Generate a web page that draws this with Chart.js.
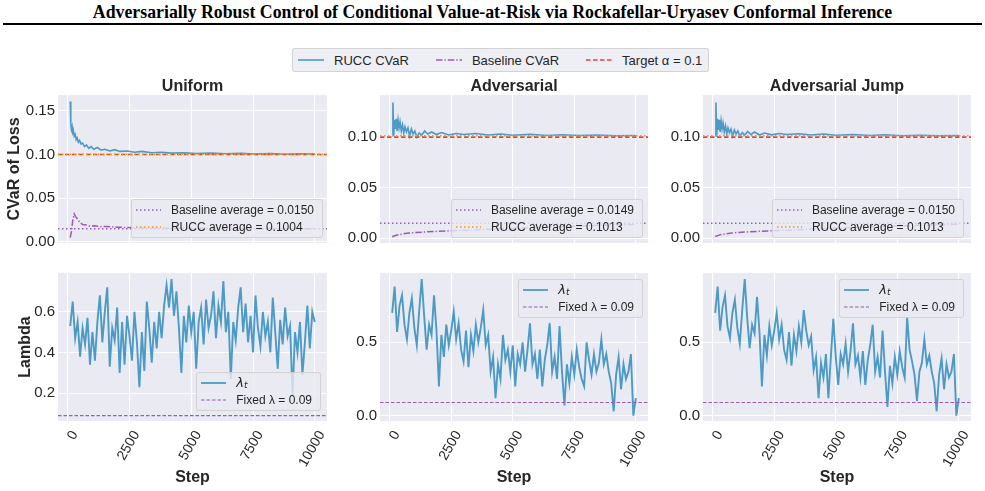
<!DOCTYPE html>
<html>
<head>
<meta charset="utf-8">
<script src="https://cdn.jsdelivr.net/npm/chart.js@4.4.1/dist/chart.umd.min.js"></script>
<style>
  html, body { margin: 0; padding: 0; background: #fff; }
  #fig { position: relative; width: 985px; height: 491px; overflow: hidden;
         font-family: 'Liberation Sans', Arial, sans-serif; color: #262626; }
  #fig canvas { position: absolute; }
  .suptitle { position: absolute; left: 0; width: 985px; top: 2px; text-align: center;
              font-family: 'Liberation Serif', 'Times New Roman', serif; font-weight: bold;
              font-size: 17.8px; line-height: 20px; color: #000; }
  .rule { position: absolute; left: 3px; width: 979px; top: 23px; height: 2px; background: #000; }
  .legend { position: absolute; background: rgba(234, 234, 242, 0.8);
            border: 1px solid rgba(204, 204, 204, 0.8); border-radius: 3px;
            font-size: 12px; line-height: 16.5px; padding: 2px 8px 2px 4px; white-space: nowrap; }
  .legend .row { display: flex; align-items: center; height: 16.5px; }
  .legend svg { margin-right: 10px; flex: none; }
  .figlegend { position: absolute; left: 292px; top: 48px; height: 22px; display: flex; align-items: center;
               background: rgba(234, 234, 242, 0.8); border: 1px solid rgba(204, 204, 204, 0.8);
               border-radius: 3px; font-size: 13px; padding: 0 6px 0 5px; white-space: nowrap; }
  .figlegend .item { display: flex; align-items: center; margin-right: 27px; }
  .figlegend .item:last-child { margin-right: 0; }
  .figlegend svg { margin-right: 10px; flex: none; }
  .math { font-family: 'DejaVu Sans', sans-serif; font-style: italic; font-size: 13px; }
  .math sub { font-size: 9px; position: relative; top: 1px; vertical-align: baseline; }
</style>
</head>
<body>
<div id="fig">
  <div class="suptitle">Adversarially Robust Control of Conditional Value-at-Risk via Rockafellar-Uryasev Conformal Inference</div>
  <div class="rule"></div>
  <canvas id="cvarUniform"></canvas>
  <canvas id="cvarAdversarial"></canvas>
  <canvas id="cvarJump"></canvas>
  <canvas id="lambdaUniform"></canvas>
  <canvas id="lambdaAdversarial"></canvas>
  <canvas id="lambdaJump"></canvas>
</div>
<script>
// ---- data ----
const X_MIN = -395;
const X_MAX = 10495;
const xTickValues = [0, 2500, 5000, 7500, 10000];

const target = 0.1;
const fixedLambda = 0.09;

// CVaR, Uniform
const uniformRuccSteps = [100, 115, 130, 150, 175, 200, 230, 260, 300, 340, 380, 430, 480, 540, 600, 680, 760, 850, 950, 1050,
  1200, 1350, 1500, 1700, 1900, 2100, 2400, 2700, 3000, 3400, 3800, 4200, 4700, 5200, 5800, 6400, 7000, 7600, 8200, 8800, 9400, 10000];
const uniformRucc = [0.1605, 0.148, 0.135, 0.129, 0.132, 0.125, 0.127, 0.121, 0.123, 0.117, 0.119, 0.114, 0.116, 0.112, 0.113, 0.109, 0.111, 0.107, 0.109, 0.106,
  0.108, 0.105, 0.106, 0.104, 0.1055, 0.1035, 0.104, 0.1025, 0.1035, 0.102, 0.1025, 0.1015, 0.102, 0.101, 0.1015, 0.1008, 0.1013, 0.1005, 0.101, 0.1003, 0.1008, 0.1004];
const uniformBaselineSteps = [100, 150, 200, 260, 320, 400, 500, 600, 750, 900, 1100, 1300, 1600, 2000, 2500, 3000, 4000, 5000, 6000, 7000, 8000, 9000, 10000];
const uniformBaseline = [0.005, 0.012, 0.024, 0.032, 0.029, 0.026, 0.022, 0.020, 0.0195, 0.018, 0.0185, 0.0175, 0.0178, 0.0168, 0.0165, 0.016, 0.0158, 0.0156, 0.0155, 0.0154, 0.0153, 0.0152, 0.0152];

// CVaR, Adversarial and Adversarial Jump
const advRuccSteps = [100, 130, 160, 200, 240, 270, 300, 340, 380, 420, 470, 520, 570, 620, 680, 740, 810, 880, 950, 1020,
  1100, 1200, 1300, 1420, 1550, 1700, 1900, 2100, 2400, 2700, 3000, 3500, 4000, 4500, 5000, 5700, 6400, 7000, 7700, 8400, 9200, 10000];
const advRucc = [0.103, 0.134, 0.101, 0.117, 0.108, 0.118, 0.106, 0.117, 0.109, 0.115, 0.106, 0.112, 0.104, 0.110, 0.105, 0.109, 0.101, 0.108, 0.103, 0.106,
  0.100, 0.104, 0.102, 0.106, 0.103, 0.105, 0.1025, 0.1045, 0.102, 0.1035, 0.1025, 0.1035, 0.102, 0.103, 0.1018, 0.1027, 0.1015, 0.1022, 0.1015, 0.102, 0.1012, 0.1015];
const jumpRucc = [0.102, 0.134, 0.100, 0.118, 0.107, 0.117, 0.105, 0.116, 0.108, 0.114, 0.105, 0.111, 0.103, 0.109, 0.104, 0.108, 0.101, 0.107, 0.103, 0.106,
  0.1005, 0.1045, 0.102, 0.1055, 0.1025, 0.105, 0.102, 0.104, 0.1022, 0.1035, 0.1025, 0.1032, 0.102, 0.103, 0.1018, 0.1025, 0.1015, 0.1022, 0.1013, 0.1018, 0.1012, 0.1014];
const advBaselineSteps = [100, 200, 300, 500, 700, 1000, 1500, 2000, 3000, 4000, 5000, 6000, 7000, 8000, 9000, 10000];
const advBaseline = [0.0016, 0.0025, 0.0033, 0.0042, 0.0050, 0.0057, 0.0064, 0.0070, 0.0080, 0.0090, 0.0100, 0.0108, 0.0116, 0.0124, 0.0131, 0.0138];
const jumpBaseline = [0.0018, 0.0027, 0.0035, 0.0044, 0.0051, 0.0058, 0.0065, 0.0071, 0.0081, 0.0091, 0.0101, 0.0109, 0.0117, 0.0125, 0.0132, 0.0139];

const baselineAverages = { uniform: 0.0150, adversarial: 0.0149, jump: 0.0150 };
const ruccAverages = { uniform: 0.1004, adversarial: 0.1013, jump: 0.1013 };

// lambda_t, one value every 100 steps
const lambdaSteps = Array.from({ length: 100 }, (_, i) => (i + 1) * 100);
const uniformLambda = [
  0.53, 0.65, 0.47, 0.55, 0.38, 0.52, 0.44, 0.57, 0.34, 0.50,
  0.36, 0.55, 0.68, 0.45, 0.60, 0.72, 0.33, 0.52, 0.46, 0.62,
  0.30, 0.55, 0.34, 0.58, 0.48, 0.36, 0.60, 0.45, 0.23, 0.50,
  0.31, 0.65, 0.52, 0.35, 0.55, 0.42, 0.60, 0.47, 0.63, 0.73,
  0.62, 0.76, 0.58, 0.70, 0.52, 0.30, 0.58, 0.45, 0.63, 0.50,
  0.60, 0.32, 0.55, 0.62, 0.44, 0.66, 0.52, 0.58, 0.70, 0.47,
  0.63, 0.55, 0.75, 0.50, 0.60, 0.27, 0.55, 0.46, 0.62, 0.72,
  0.50, 0.64, 0.45, 0.58, 0.40, 0.68, 0.52, 0.43, 0.60, 0.48,
  0.55, 0.40, 0.67, 0.50, 0.32, 0.56, 0.44, 0.62, 0.48, 0.53,
  0.19, 0.50, 0.40, 0.55, 0.29, 0.45, 0.63, 0.42, 0.60, 0.55];
const adversarialLambda = [
  0.70, 0.88, 0.57, 0.75, 0.82, 0.62, 0.52, 0.70, 0.80, 0.60,
  0.48, 0.72, 0.93, 0.68, 0.45, 0.62, 0.55, 0.82, 0.58, 0.20,
  0.55, 0.40, 0.62, 0.48, 0.58, 0.71, 0.52, 0.63, 0.45, 0.37,
  0.58, 0.33, 0.55, 0.44, 0.62, 0.50, 0.60, 0.72, 0.48, 0.55,
  0.30, 0.40, 0.12, 0.35, 0.25, 0.55, 0.38, 0.45, 0.30, 0.48,
  0.20, 0.42, 0.35, 0.50, 0.30, 0.45, 0.63, 0.35, 0.42, 0.25,
  0.45, 0.20, 0.38, 0.48, 0.63, 0.30, 0.40, 0.25, 0.61, 0.30,
  0.07, 0.35, 0.22, 0.40, 0.28, 0.45, 0.33, 0.25, 0.20, 0.50,
  0.38, 0.28, 0.42, 0.30, 0.36, 0.52, 0.35, 0.42, 0.30, 0.22,
  0.03, 0.28, 0.40, 0.18, 0.35, 0.25, 0.30, 0.42, 0.00, 0.12];
const jumpLambda = [
  0.70, 0.88, 0.58, 0.74, 0.82, 0.61, 0.53, 0.70, 0.79, 0.60,
  0.49, 0.72, 0.93, 0.67, 0.46, 0.62, 0.56, 0.81, 0.57, 0.20,
  0.55, 0.41, 0.61, 0.48, 0.58, 0.70, 0.52, 0.62, 0.45, 0.38,
  0.57, 0.34, 0.55, 0.44, 0.61, 0.50, 0.72, 0.58, 0.48, 0.54,
  0.31, 0.40, 0.12, 0.36, 0.26, 0.42, 0.12, 0.40, 0.66, 0.40,
  0.21, 0.42, 0.35, 0.49, 0.30, 0.44, 0.63, 0.35, 0.41, 0.26,
  0.44, 0.21, 0.38, 0.48, 0.62, 0.30, 0.40, 0.26, 0.58, 0.30,
  0.06, 0.34, 0.22, 0.40, 0.28, 0.44, 0.33, 0.26, 0.67, 0.45,
  0.37, 0.28, 0.10, 0.30, 0.36, 0.52, 0.35, 0.41, 0.30, 0.22,
  0.03, 0.28, 0.39, 0.18, 0.35, 0.26, 0.30, 0.42, 0.00, 0.12];

// ---- styling ----
const INK = '#262626';
const BLUE = '#4c9ac6';
const PURPLE = '#9b59b6';
const RED = '#e8413c';
const ORANGE = '#f39c12';
const DASH_DOT = [6.5, 2, 1.3, 2];
const DASHED = [4.5, 2.5];
const DOTTED = [1.5, 2.5];
const THIN_DASHED = [3.5, 2];

Chart.defaults.font.family = "'Liberation Sans', Arial, sans-serif";
Chart.defaults.color = INK;

const toPoints = (xs, ys) => xs.map((x, i) => ({ x: x, y: ys[i] }));
const hline = (v) => [{ x: X_MIN, y: v }, { x: X_MAX, y: v }];

function line(points, color, width, dash) {
  return {
    data: points,
    borderColor: color,
    borderWidth: width,
    borderDash: dash || [],
    pointRadius: 0,
    fill: false,
    tension: 0,
  };
}

// first dataset is drawn on top
function cvarDatasets(steps, rucc, baseSteps, baseline, baseAvg, ruccAvg) {
  return [
    line(hline(ruccAvg), ORANGE, 1.5, DOTTED),
    line(hline(baseAvg), PURPLE, 1.5, DOTTED),
    line(hline(target), RED, 1.7, DASHED),
    line(toPoints(baseSteps, baseline), PURPLE, 1.5, DASH_DOT),
    line(toPoints(steps, rucc), BLUE, 1.6),
  ];
}

function lambdaDatasets(values) {
  return [
    line(hline(fixedLambda), PURPLE, 1.2, THIN_DASHED),
    line(toPoints(lambdaSteps, values), BLUE, 1.9),
  ];
}

const plotBackground = {
  id: 'plotBackground',
  beforeDraw(chart) {
    const { ctx, chartArea } = chart;
    ctx.save();
    ctx.fillStyle = '#eaeaf2';
    ctx.fillRect(chartArea.left, chartArea.top, chartArea.width, chartArea.height);
    ctx.restore();
  },
};

const panels = [
  { id: 'cvarUniform', left: 0, top: 75, width: 330, height: 180, yWidth: 58, padRight: 3, padTop: 0, xHeight: 12,
    title: 'Uniform', yTitle: 'CVaR of Loss', yTitlePad: 5.4, yMin: -0.0012, yMax: 0.168, yTicks: [0, 0.05, 0.1, 0.15], yDec: 2,
    datasets: cvarDatasets(uniformRuccSteps, uniformRucc, uniformBaselineSteps, uniformBaseline, baselineAverages.uniform, ruccAverages.uniform) },
  { id: 'cvarAdversarial', left: 330, top: 75, width: 325, height: 180, yWidth: 50, padRight: 7, padTop: 0, xHeight: 12,
    title: 'Adversarial', yMin: -0.0046, yMax: 0.1415, yTicks: [0, 0.05, 0.1], yDec: 2,
    datasets: cvarDatasets(advRuccSteps, advRucc, advBaselineSteps, advBaseline, baselineAverages.adversarial, ruccAverages.adversarial) },
  { id: 'cvarJump', left: 653, top: 75, width: 332, height: 180, yWidth: 50, padRight: 14, padTop: 0, xHeight: 12,
    title: 'Adversarial Jump', yMin: -0.0046, yMax: 0.1415, yTicks: [0, 0.05, 0.1], yDec: 2,
    datasets: cvarDatasets(advRuccSteps, jumpRucc, advBaselineSteps, jumpBaseline, baselineAverages.jump, ruccAverages.jump) },
  { id: 'lambdaUniform', left: 0, top: 263, width: 330, height: 228, yWidth: 58, padRight: 3, padTop: 10, xHeight: 70, xLabels: true,
    yTitle: 'Lambda', yTitlePad: 16.4, yMin: 0.064, yMax: 0.79, yTicks: [0.2, 0.4, 0.6], yDec: 1,
    datasets: lambdaDatasets(uniformLambda) },
  { id: 'lambdaAdversarial', left: 330, top: 263, width: 325, height: 228, yWidth: 50, padRight: 7, padTop: 10, xHeight: 70, xLabels: true,
    yMin: -0.036, yMax: 0.972, yTicks: [0, 0.5], yDec: 1,
    datasets: lambdaDatasets(adversarialLambda) },
  { id: 'lambdaJump', left: 653, top: 263, width: 332, height: 228, yWidth: 50, padRight: 14, padTop: 10, xHeight: 70, xLabels: true,
    yMin: -0.036, yMax: 0.972, yTicks: [0, 0.5], yDec: 1,
    datasets: lambdaDatasets(jumpLambda) },
];

panels.forEach((p) => {
  const canvas = document.getElementById(p.id);
  canvas.width = p.width;
  canvas.height = p.height;
  canvas.style.left = p.left + 'px';
  canvas.style.top = p.top + 'px';

  new Chart(canvas, {
    type: 'line',
    data: { datasets: p.datasets },
    options: {
      responsive: false,
      animation: false,
      devicePixelRatio: 1,
      layout: { padding: { top: p.padTop, right: p.padRight, left: 0, bottom: 0 } },
      plugins: {
        legend: { display: false },
        tooltip: { enabled: false },
        title: {
          display: !!p.title,
          text: p.title,
          fullSize: false,
          color: INK,
          font: { size: 16, weight: 'bold', lineHeight: 1 },
          padding: { top: 4, bottom: 0 },
        },
      },
      scales: {
        x: {
          type: 'linear',
          min: X_MIN,
          max: X_MAX,
          afterBuildTicks: (s) => { s.ticks = xTickValues.map((v) => ({ value: v })); },
          afterFit: (s) => { s.height = p.xHeight; s.paddingLeft = 0; s.paddingRight = 0; },
          grid: { color: '#ffffff', lineWidth: 1, drawTicks: false },
          border: { display: false },
          ticks: {
            display: !!p.xLabels,
            autoSkip: false,
            minRotation: 60,
            maxRotation: 60,
            padding: 7,
            labelOffset: 7,
            color: INK,
            font: { size: 14 },
            callback: (v) => String(v),
          },
          title: {
            display: !!p.xLabels,
            text: 'Step',
            color: INK,
            font: { size: 16, weight: 'bold' },
            padding: { top: 0, bottom: 4 },
          },
        },
        y: {
          min: p.yMin,
          max: p.yMax,
          afterBuildTicks: (s) => { s.ticks = p.yTicks.map((v) => ({ value: v })); },
          afterFit: (s) => { s.width = p.yWidth; s.paddingTop = 0; s.paddingBottom = 0; },
          grid: { color: '#ffffff', lineWidth: 1, drawTicks: false },
          border: { display: false },
          ticks: {
            padding: 3,
            color: INK,
            font: { size: 15 },
            callback: (v) => Number(v).toFixed(p.yDec),
          },
          title: {
            display: !!p.yTitle,
            text: p.yTitle,
            color: INK,
            font: { size: 16, weight: 'bold' },
            padding: { top: p.yTitlePad || 0, bottom: 0 },
          },
        },
      },
    },
    plugins: [plotBackground],
  });
});

// ---- legends ----
function sample(color, dash, width, len) {
  const d = dash && dash.length ? ` stroke-dasharray="${dash.join(' ')}"` : '';
  return `<svg width="${len}" height="10"><line x1="0" y1="5" x2="${len}" y2="5" stroke="${color}" stroke-width="${width}"${d}/></svg>`;
}

function addLegend(pos, rows) {
  const box = document.createElement('div');
  box.className = 'legend';
  Object.keys(pos).forEach((k) => { box.style[k] = pos[k] + 'px'; });
  box.innerHTML = rows.map((r) => `<div class="row">${sample(r.color, r.dash, r.width, 25)}<span>${r.label}</span></div>`).join('');
  document.getElementById('fig').appendChild(box);
}

const lambdaLabel = '<span class="math">λ<sub>t</sub></span>';
const avgRows = (b, r) => [
  { label: 'Baseline average = ' + b.toFixed(4), color: PURPLE, dash: DOTTED, width: 1.5 },
  { label: 'RUCC average = ' + r.toFixed(4), color: ORANGE, dash: DOTTED, width: 1.5 },
];
const lambdaRows = [
  { label: lambdaLabel, color: BLUE, width: 1.8 },
  { label: 'Fixed λ = ' + fixedLambda, color: PURPLE, dash: THIN_DASHED, width: 1.2 },
];

addLegend({ right: 662, bottom: 253 }, avgRows(baselineAverages.uniform, ruccAverages.uniform));
addLegend({ right: 342, bottom: 253 }, avgRows(baselineAverages.adversarial, ruccAverages.adversarial));
addLegend({ right: 21, bottom: 253 }, avgRows(baselineAverages.jump, ruccAverages.jump));
addLegend({ right: 664, bottom: 80 }, lambdaRows);
addLegend({ right: 342, top: 279 }, lambdaRows);
addLegend({ right: 21, top: 279 }, lambdaRows);

// figure legend
const figItems = [
  { label: 'RUCC CVaR', color: BLUE, width: 1.6 },
  { label: 'Baseline CVaR', color: PURPLE, dash: DASH_DOT, width: 1.6 },
  { label: 'Target α = ' + target, color: RED, dash: DASHED, width: 1.6 },
];
const figLegend = document.createElement('div');
figLegend.className = 'figlegend';
figLegend.innerHTML = figItems.map((it) => `<div class="item">${sample(it.color, it.dash, it.width, 26)}<span>${it.label}</span></div>`).join('');
document.getElementById('fig').appendChild(figLegend);
</script>
</body>
</html>
